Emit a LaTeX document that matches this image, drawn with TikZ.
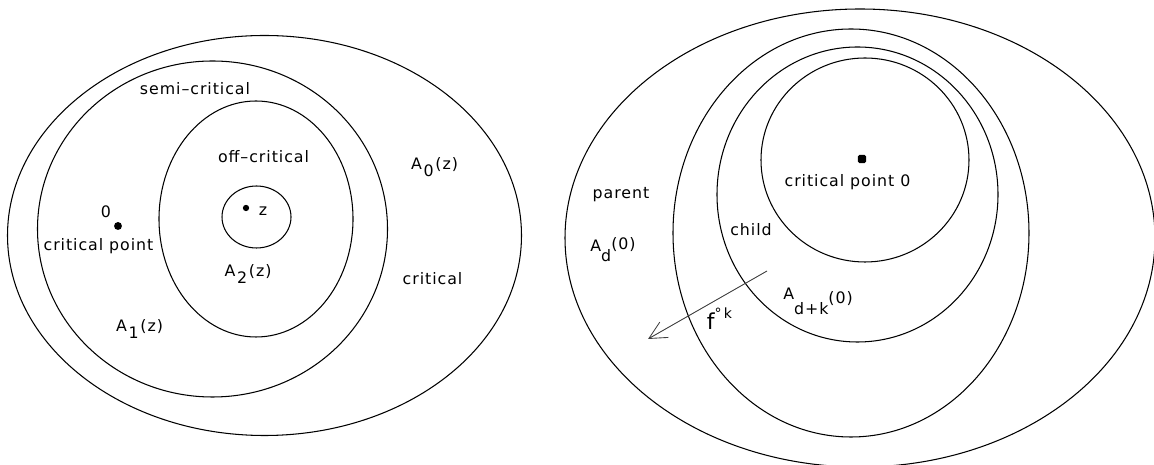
\documentclass[tikz,border=0pt]{standalone}
\usepackage{fontspec}
\setmainfont{DejaVu Sans}[LetterSpace=6]
\usetikzlibrary{arrows.meta}

\tikzset{
  lbl/.style={inner sep=0pt, font=\fontsize{9}{11}\selectfont},
  region/.style={line width=0.6pt},
  dot/.style={circle, fill, inner sep=0pt, minimum size=#1},
  orbit/.style={black!75, line width=0.5pt, -{Straight Barb[length=10pt,width=10pt]}}
}

\begin{document}
\begin{tikzpicture}[x=0.02cm,y=-0.02cm]
\useasboundingbox (0,0) rectangle (1154,465);
\clip (0,0) rectangle (1154,465);

% left: levels around z
\draw[region] (264.5,235.5) ellipse [x radius=257, y radius=200];
\draw[region] (212.5,229) ellipse [x radius=175, y radius=168];
\draw[region] (256,219) ellipse [x radius=97, y radius=118];
\draw[region] (256.5,217) ellipse [x radius=34.5, y radius=31];

\node[dot=4.5pt] (crit0) at (118,226) {};
\node[dot=3.6pt] (zpt) at (246,208) {};
\node[lbl] (zlab) at (263,211) {z};
\node[lbl] (zero) at (106,212) {0};
\node[lbl] (critpt) at (98.5,246.5) {critical point};
\node[lbl] (semi) at (195,88.5) {semi–critical};
\node[lbl] (off) at (263.5,157) {off–critical};
\node[lbl] (azero) at (434.5,167) {A\kern1pt\raisebox{-4pt}{0}\kern1pt(z)};
\node[lbl] (crit) at (432.5,278.5) {critical};
\node[lbl] (atwo) at (248,274) {A\kern1pt\raisebox{-4.5pt}{2}\kern1pt(z)};
\node[lbl] (aone) at (139.5,329) {A\kern1pt\raisebox{-3.5pt}{1}\kern1pt(z)};

% right: parent and child
\draw[region] (860,238) ellipse [x radius=295, y radius=229];
\draw[region] (851,233) ellipse [x radius=178, y radius=204];
\draw[region] (857.5,194.5) ellipse [x radius=140.5, y radius=147.5];
\draw[region] (865,160) ellipse [x radius=104, y radius=102];

\node[dot=4.8pt, rectangle, rounded corners=1pt] (crpt) at (862,159) {};
\node[lbl] (critzero) at (847.5,182.5) {critical point 0};
\node[lbl] (parent) at (621,194.5) {parent};
\node[lbl] (ad) at (613,250) {A\raisebox{-5.7pt}{d}\raisebox{1pt}{(0)}};
\node[lbl] (child) at (751,230) {child};
\node[lbl] (adk) at (818,301) {A\raisebox{-8.5pt}{d+k}\raisebox{-2.3pt}{(0)}};
\node[lbl] (fk) at (719.5,318.5) {{\fontsize{12.5}{14}\selectfont f}\raisebox{6pt}{\fontsize{8}{9}\selectfont °\,k}};

\coordinate (ftail) at (767,271);
\coordinate (fhead) at (648,339);
\draw[orbit] (ftail) -- (fhead);
\end{tikzpicture}
\end{document}
